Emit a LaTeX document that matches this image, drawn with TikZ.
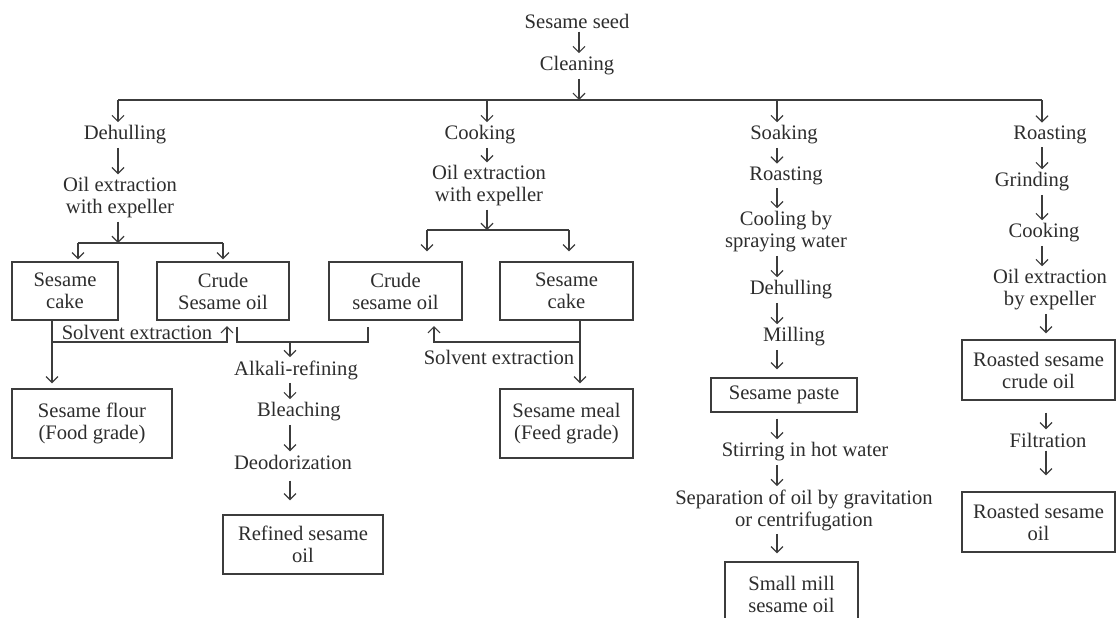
\documentclass[tikz,border=0pt]{standalone}
\usepackage{fontspec}
\setmainfont{Liberation Serif}
\usepackage{tikz}
\usetikzlibrary{arrows.meta,positioning}
\definecolor{ssink}{RGB}{45,45,45}
\definecolor{ssline}{RGB}{60,60,60}
\tikzstyle{stage} = [font=\fontsize{10.3}{11}\selectfont, text=ssink, align=center, inner sep=1.5pt]
\tikzstyle{product} = [stage, draw=ssline, line width=0.6pt, inner sep=0pt]
\tikzstyle{link} = [line width=0.6pt, color=ssline]
\tikzstyle{arrow} = [link, ->, >={Straight Barb[length=3pt,width=6pt]}]

\begin{document}
\begin{tikzpicture}[x=0.5pt,y=-0.5pt]
\useasboundingbox (0,0) rectangle (1117,617);

% Top of the chart
\node[stage] (seed) at (577,21) {Sesame seed};
\node[stage] (clean) at (577,66) {Cleaning};
\coordinate (split) at (579,100);
\coordinate (c1) at (118,100);
\coordinate (c2) at (487,100);
\coordinate (c3) at (777,100);
\coordinate (c4) at (1042,100);
\draw[arrow] (seed.south -| split) -- (clean.north -| split);
\draw[arrow] (clean.south -| split) -- (split);
\draw[link] (c1) -- (c4);

% Dehulled seed
\node[stage] (deh1) at (125,135) {Dehulling};
\node[stage] (oilA) at (120,198) {Oil extraction\\with expeller};
\node[product, minimum width=53pt, minimum height=29pt] (cakeA) at (65,291) {Sesame\\cake};
\node[product, minimum width=66pt, minimum height=29pt] (crudeA) at (223,291) {Crude\\Sesame oil};
\node[product, minimum width=80pt, minimum height=34.5pt] (flour) at (92,423.5) {Sesame flour\\(Food grade)};
\node[stage] (solvlabA) at (137,332) {Solvent extraction};
\coordinate (forkA) at (118,243);
\coordinate (forkAl) at (78,243);
\coordinate (forkAr) at (223,243);
\coordinate (solvA) at (52,342);
\coordinate (upA) at (227,326);
\draw[arrow] (c1) -- (deh1.north -| c1);
\draw[arrow] (deh1.south -| c1) -- (oilA.north -| c1);
\draw[arrow] (oilA.south -| c1) -- (forkA);
\draw[link] (forkAl) -- (forkAr);
\draw[arrow, shorten >=1pt] (forkAl) -- (cakeA.north -| forkAl);
\draw[arrow, shorten >=1pt] (forkAr) -- (crudeA.north -| forkAr);
\draw[arrow] (cakeA.south -| solvA) -- (solvA) -| (upA);
\draw[arrow, shorten >=2.5pt] (solvA) -- (flour.north -| solvA);

% Cooked seed
\node[stage] (cook2) at (480,135) {Cooking};
\node[stage] (oilB) at (489,186) {Oil extraction\\with expeller};
\node[product, minimum width=66.5pt, minimum height=29pt] (crudeB) at (395.5,291) {Crude\\sesame oil};
\node[product, minimum width=66.5pt, minimum height=29pt] (cakeB) at (566.5,291) {Sesame\\cake};
\node[product, minimum width=66.5pt, minimum height=34.5pt] (meal) at (566.5,423.5) {Sesame meal\\(Feed grade)};
\node[stage] (solvlabB) at (499,357) {Solvent extraction};
\coordinate (forkB) at (487,230);
\coordinate (forkBl) at (427,230);
\coordinate (forkBr) at (569,230);
\coordinate (solvB) at (580,342);
\coordinate (upB) at (434,326);
\draw[arrow] (c2) -- (cook2.north -| c2);
\draw[arrow] (cook2.south -| c2) -- (oilB.north -| c2);
\draw[arrow] (oilB.south -| c2) -- (forkB);
\draw[link] (forkBl) -- (forkBr);
\draw[arrow, shorten >=5pt] (forkBl) -- (crudeB.north -| forkBl);
\draw[arrow, shorten >=5pt] (forkBr) -- (cakeB.north -| forkBr);
\draw[arrow] (cakeB.south -| solvB) -- (solvB) -| (upB);
\draw[arrow, shorten >=2.5pt] (solvB) -- (meal.north -| solvB);

% Refining of both crude oils
\node[stage] (alkali) at (296,370) {Alkali-refining};
\node[stage] (bleach) at (299,412) {Bleaching};
\node[stage] (deodor) at (293,462) {Deodorization};
\node[product, minimum width=80pt, minimum height=29.5pt] (refined) at (303,544.5) {Refined sesame\\oil};
\coordinate (mergeL) at (237,342);
\coordinate (mergeM) at (290,342);
\coordinate (mergeR) at (368,342);
\draw[link] ([yshift=-3pt]crudeA.south -| mergeL) -- (mergeL) -- (mergeR) -- ([yshift=-3pt]crudeB.south -| mergeR);
\draw[arrow] (mergeM) -- (alkali.north -| mergeM);
\draw[arrow] (alkali.south -| mergeM) -- (bleach.north -| mergeM);
\draw[arrow] (bleach.south -| mergeM) -- (deodor.north -| mergeM);
\draw[arrow, shorten <=4pt, shorten >=7pt] (deodor.south -| mergeM) -- (refined.north -| mergeM);

% Soaked seed
\node[stage] (soak) at (784,135) {Soaking};
\node[stage] (roast3) at (786,176) {Roasting};
\node[stage] (cool) at (786,232) {Cooling by\\spraying water};
\node[stage] (deh3) at (791,290) {Dehulling};
\node[stage] (mill) at (794,337) {Milling};
\node[product, minimum width=73pt, minimum height=17pt] (paste) at (784,395) {Sesame paste};
\node[stage] (stir) at (805,452) {Stirring in hot water};
\node[stage] (sep) at (804,510) {Separation of oil by gravitation\\or centrifugation};
\node[product, minimum width=66.5pt, minimum height=32pt] (smallmill) at (791.5,594) {Small mill\\sesame oil};
\draw[arrow] (c3) -- (soak.north -| c3);
\draw[arrow] (soak.south -| c3) -- (roast3.north -| c3);
\draw[arrow] (roast3.south -| c3) -- (cool.north -| c3);
\draw[arrow] (cool.south -| c3) -- (deh3.north -| c3);
\draw[arrow] (deh3.south -| c3) -- (mill.north -| c3);
\draw[arrow, shorten >=4pt] (mill.south -| c3) -- (paste.north -| c3);
\draw[arrow, shorten <=3pt] (paste.south -| c3) -- (stir.north -| c3);
\draw[arrow] (stir.south -| c3) -- (sep.north -| c3);
\draw[arrow, shorten >=4pt] (sep.south -| c3) -- (smallmill.north -| c3);

% Roasted seed
\node[stage] (roast4) at (1050,135) {Roasting};
\node[stage] (grind) at (1032,182) {Grinding};
\node[stage] (cook4) at (1044,233) {Cooking};
\node[stage] (oilC) at (1050,290) {Oil extraction\\by expeller};
\node[product, minimum width=76.5pt, minimum height=30pt] (rcrude) at (1038.5,370) {Roasted sesame\\crude oil};
\node[stage] (filt) at (1048,440) {Filtration};
\node[product, minimum width=76.5pt, minimum height=30pt] (roil) at (1038.5,522) {Roasted sesame\\oil};
\coordinate (c4b) at (1046,300);
\draw[arrow] (c4) -- (roast4.north -| c4);
\draw[arrow] (roast4.south -| c4) -- (grind.north -| c4);
\draw[arrow] (grind.south -| c4) -- (cook4.north -| c4);
\draw[arrow] (cook4.south -| c4) -- (oilC.north -| c4);
\draw[arrow, shorten >=3pt] (oilC.south -| c4b) -- (rcrude.north -| c4b);
\draw[arrow, shorten <=6pt] (rcrude.south -| c4b) -- (filt.north -| c4b);
\draw[arrow, shorten >=8pt] (filt.south -| c4b) -- (roil.north -| c4b);
\end{tikzpicture}
\end{document}
